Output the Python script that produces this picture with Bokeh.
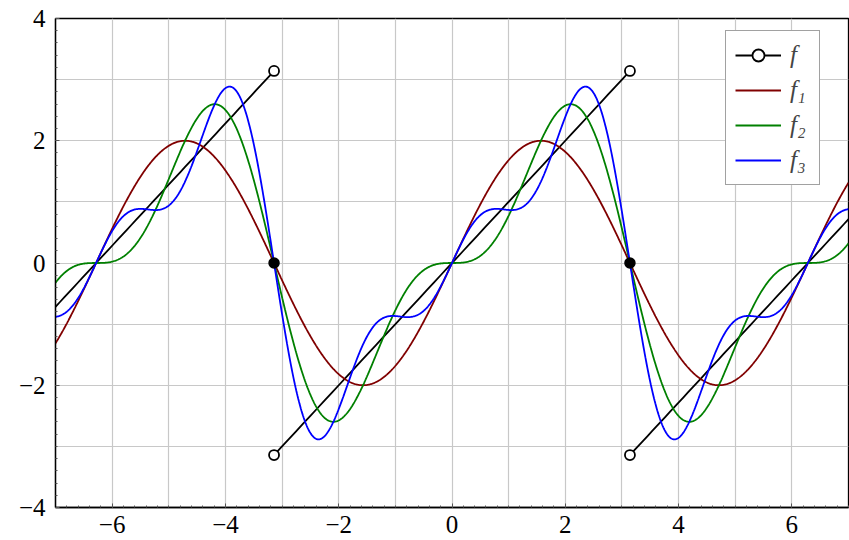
import numpy as np
from bokeh.plotting import figure
from bokeh.models import FixedTicker, Grid, Legend, LegendItem, Range1d
from bokeh.embed import file_html
from bokeh.resources import INLINE

# ---- data ----
x_major_ticks = [-6, -4, -2, 0, 2, 4, 6]
y_major_ticks = [-4, -2, 0, 2, 4]
grid_x = [-7, -6, -5, -4, -3, -2, -1, 0, 1, 2, 3, 4, 5, 6, 7]
grid_y = [-4, -3, -2, -1, 0, 1, 2, 3, 4]
# Fourier sine coefficients of the sawtooth f(x) = x on (-pi, pi)
fourier_b = [2.0, -1.0, 2.0 / 3.0]
series_names = ["f\u2081", "f\u2082", "f\u2083"]
series_colors = ["#800000", "#008000", "#0000ff"]
jump_x = [-np.pi, np.pi]
jump_left = [np.pi, np.pi]      # limit from the left at the jumps
jump_right = [-np.pi, -np.pi]   # limit from the right at the jumps
jump_mid = [0.0, 0.0]           # value of the series at the jumps
x_min, x_max = -7.0, 7.0
y_min, y_max = -4.0, 4.0

FONT = "serif"
LFONT = "serif"
minus = "\u2212"
def lab(v):
    return (minus + str(-v)) if v < 0 else str(v)

p = figure(width=849, height=540, output_backend="svg", toolbar_location=None,
           x_range=Range1d(x_min, x_max), y_range=Range1d(y_min, y_max),
           min_border_left=55, min_border_right=1, min_border_top=18,
           min_border_bottom=33)
p.grid.visible = False
p.outline_line_color = "black"
p.outline_line_width = 1.3
p.background_fill_color = "white"
p.border_fill_color = "white"

for dim, ticks in ((0, grid_x), (1, grid_y)):
    g = Grid(dimension=dim, ticker=FixedTicker(ticks=ticks),
             grid_line_color="#c8c8c8", grid_line_width=1.2)
    p.add_layout(g)

xminor = [round(v, 1) for v in np.arange(-7, 7.01, 0.2)]
yminor = [round(v, 1) for v in np.arange(-4, 4.01, 0.2)]
p.xaxis.ticker = FixedTicker(ticks=x_major_ticks, minor_ticks=xminor)
p.yaxis.ticker = FixedTicker(ticks=y_major_ticks, minor_ticks=yminor)
p.xaxis.major_label_overrides = {v: lab(v) for v in x_major_ticks}
p.yaxis.major_label_overrides = {v: lab(v) for v in y_major_ticks}
for ax in (p.xaxis[0], p.yaxis[0]):
    ax.axis_line_color = "black"
    ax.axis_line_width = 1.3
    ax.major_tick_in = 4
    ax.major_tick_out = 0
    ax.minor_tick_in = 2
    ax.minor_tick_out = 0
    ax.major_tick_line_color = "#555555"
    ax.minor_tick_line_color = "#555555"
    ax.major_label_text_font = FONT
    ax.major_label_text_font_size = "25px"
    ax.major_label_text_color = "black"
p.xaxis.major_label_standoff = 8
p.yaxis.major_label_standoff = 10

# sawtooth f
period = 2 * np.pi
segs_x, segs_y = [], []
for k in (-1, 0, 1):
    a = max(x_min, -np.pi + k * period)
    b = min(x_max, np.pi + k * period)
    xs = np.linspace(a, b, 50)
    segs_x.append(xs)
    segs_y.append(xs - k * period)
saw = p.multi_line(segs_x, segs_y, line_color="black", line_width=1.8)

# partial sums
xs = np.linspace(x_min, x_max, 1200)
partial = np.zeros_like(xs)
curves = []
for n, b in enumerate(fourier_b, start=1):
    partial = partial + b * np.sin(n * xs)
    r = p.line(xs, partial.copy(), line_color=series_colors[n - 1], line_width=1.8)
    curves.append(r)

open_x = jump_x + jump_x
open_y = jump_left + jump_right
opens = p.scatter(open_x, open_y, marker="circle", size=10, line_color="black",
                  line_width=1.8, fill_color="white")
p.scatter(jump_x, jump_mid, marker="circle", size=10, line_color="black",
          line_width=1.5, fill_color="black")

items = [LegendItem(label="f", renderers=[saw, opens])]
for name, r in zip(series_names, curves):
    items.append(LegendItem(label=name, renderers=[r]))
legend = Legend(items=items, location=(670, 322))
legend.label_text_font = LFONT
legend.label_text_font_style = "italic"
legend.label_text_font_size = "25px"
legend.glyph_width = 46
legend.glyph_height = 30
legend.label_height = 30
legend.label_standoff = 9
legend.spacing = 5
legend.padding = 9
legend.border_line_color = "#444444"
legend.border_line_width = 1.3
legend.background_fill_alpha = 1.0
p.add_layout(legend)

open("out.html", "w").write(file_html(p, INLINE))
